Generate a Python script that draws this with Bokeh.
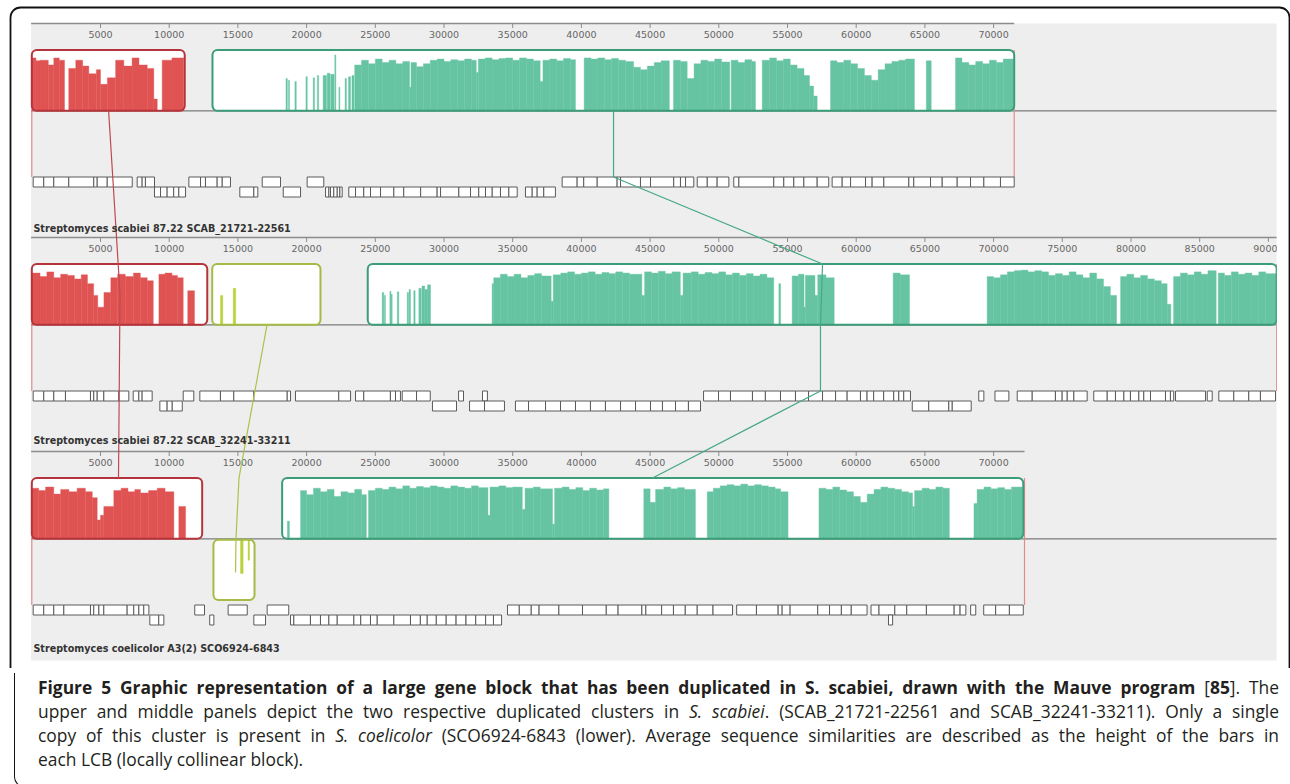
import numpy as np
from bokeh.plotting import figure
from bokeh.models import Range1d, Div
from bokeh.layouts import column
from bokeh.embed import file_html
from bokeh.resources import INLINE
from bokeh.core.properties import value

# ------------------------------------------------------------------ data
GENOME_NAMES = [
    "Streptomyces scabiei 87.22 SCAB_21721-22561",
    "Streptomyces scabiei 87.22 SCAB_32241-33211",
    "Streptomyces coelicolor A3(2) SCO6924-6843",
]
GENOME_LEN_KB = [71.5, 90.6, 72.25]

TICKS_P1 = [5000, 10000, 15000, 20000, 25000, 30000, 35000, 40000, 45000, 50000, 55000, 60000, 65000, 70000]
TICKS_P2 = [5000, 10000, 15000, 20000, 25000, 30000, 35000, 40000, 45000, 50000, 55000, 60000, 65000, 70000,
            75000, 80000, 85000, 90000]
TICKS_P3 = [5000, 10000, 15000, 20000, 25000, 30000, 35000, 40000, 45000, 50000, 55000, 60000, 65000, 70000]
TICKS = [TICKS_P1, TICKS_P2, TICKS_P3]

# similarity profiles: (start_kb, end_kb, relative height)
P1_RED_HIST = [(0.0, 0.3, .9), (0.3, 0.6, .85), (0.6, 1.2, .86), (1.2, 1.6, .78), (1.6, 2.0, .9), (2.0, 2.38, .86),
               (2.69, 3.2, .72), (3.2, 3.7, .86), (3.7, 4.15, .76), (4.15, 4.7, .63), (4.7, 5.0, .7), (5.0, 5.5, .45),
               (5.5, 6.1, .56), (6.1, 6.7, .86), (6.7, 7.3, .76), (7.3, 7.8, .9), (7.8, 8.4, .78), (8.4, 8.88, .72),
               (8.88, 9.13, .2), (9.49, 10.2, .86), (10.2, 11.05, .9)]
P1_GREEN_HIST = [(18.5, 18.6, .55), (18.68, 18.76, .52), (19.15, 19.25, .5), (19.95, 20.05, .58), (20.48, 20.58, .56),
                 (20.78, 20.88, .6), (21.2, 21.45, .6), (21.5, 21.7, .64), (21.75, 22.0, .62), (22.05, 22.13, .95),
                 (22.35, 22.42, .4), (22.8, 22.9, .55), (23.05, 23.2, .58), (23.3, 23.45, .6),
                 (23.5, 24.0, .78), (24.0, 24.5, .86), (24.5, 25.0, .8), (25.0, 25.5, .88), (25.5, 26.0, .82),
                 (26.0, 26.5, .86), (26.5, 27.0, .8), (27.0, 27.5, .84), (27.5, 27.6, .4), (27.6, 28.0, .82),
                 (28.0, 28.5, .75), (28.5, 29.0, .8), (29.0, 29.5, .86), (29.5, 30.0, .88), (30.0, 30.5, .84),
                 (30.5, 31.0, .87), (31.0, 31.5, .85), (31.5, 32.0, .88), (32.0, 32.35, .86), (32.35, 32.5, .65),
                 (32.5, 33.0, .88), (33.0, 33.5, .9), (33.5, 34.0, .87), (34.0, 34.5, .89), (34.5, 35.0, .9),
                 (35.0, 35.5, .86), (35.5, 36.0, .9), (36.0, 36.5, .88), (36.5, 37.0, .85), (37.0, 37.2, .5),
                 (37.2, 37.7, .86), (37.7, 38.2, .88), (38.2, 38.7, .85), (38.7, 39.2, .89), (39.2, 39.57, .87),
                 (40.2, 40.7, .9), (40.7, 41.2, .88), (41.2, 41.7, .9), (41.7, 42.2, .87), (42.2, 42.7, .89),
                 (42.7, 43.2, .86), (43.2, 43.8, .84), (43.8, 44.3, .74), (44.3, 44.8, .7), (44.8, 45.3, .76),
                 (45.3, 45.8, .82), (45.8, 46.4, .85),
                 (46.7, 47.2, .86), (47.2, 47.7, .84), (47.7, 48.2, .55), (48.2, 48.7, .8), (48.7, 49.2, .86),
                 (49.2, 49.7, .84), (49.7, 50.2, .88), (50.2, 50.8, .83), (50.9, 51.4, .86), (51.4, 51.9, .82),
                 (51.9, 52.4, .87), (52.4, 52.67, .84),
                 (53.16, 53.7, .86), (53.7, 54.2, .9), (54.2, 54.7, .85), (54.7, 55.2, .88), (55.2, 55.7, .78),
                 (55.7, 56.2, .72), (56.2, 56.6, .6), (56.6, 56.9, .42), (56.9, 57.16, .25),
                 (58.13, 58.6, .85), (58.6, 59.1, .82), (59.1, 59.6, .86), (59.6, 60.1, .8), (60.1, 60.6, .72),
                 (60.6, 61.1, .6), (61.1, 61.6, .52), (61.6, 62.1, .7), (62.1, 62.6, .8), (62.6, 63.1, .84),
                 (63.1, 63.6, .86), (63.6, 64.24, .88),
                 (65.1, 65.46, .85),
                 (67.23, 67.7, .9), (67.7, 68.2, .82), (68.2, 68.7, .78), (68.7, 69.2, .84), (69.2, 69.7, .8),
                 (69.7, 70.2, .86), (70.2, 70.7, .82), (70.7, 71.45, .88)]
P2_RED_HIST = [(0.0, 0.6, .88), (0.6, 1.1, .82), (1.1, 1.6, .9), (1.6, 2.1, .8), (2.1, 2.6, .86), (2.6, 3.1, .84),
               (3.1, 3.6, .78), (3.6, 4.05, .85), (4.05, 4.5, .7), (4.5, 4.8, .5), (4.8, 5.25, .3), (5.25, 5.75, .55),
               (5.75, 6.25, .8), (6.25, 6.8, .86), (6.8, 7.4, .82), (7.4, 7.9, .88), (7.9, 8.4, .8), (8.4, 8.84, .75),
               (9.25, 9.7, .86), (9.7, 10.2, .88), (10.2, 10.6, .84), (10.6, 11.02, .8), (11.35, 11.84, .58)]
P2_YELLOW_HIST = [(13.73, 13.9, .5), (14.66, 14.84, .62)]
P2_GREEN_HIST = [(25.5, 25.62, .55), (25.66, 25.74, .5), (26.06, 26.14, .57), (26.15, 26.23, .52), (26.6, 26.71, .56),
                 (27.32, 27.42, .55), (27.46, 27.56, .6), (27.8, 27.9, .58), (28.17, 28.35, .62), (28.4, 28.6, .66),
                 (28.6, 28.8, .6), (28.8, 29.02, .68),
                 (33.5, 33.62, .7), (33.62, 34.1, .8), (34.1, 34.6, .86), (34.6, 35.1, .82), (35.1, 35.6, .86),
                 (35.6, 36.1, .8), (36.1, 36.6, .84), (36.6, 37.1, .87), (37.1, 37.8, .83), (37.8, 37.95, .4),
                 (37.95, 38.5, .85), (38.5, 39.0, .88), (39.0, 39.5, .9), (39.5, 40.0, .86), (40.0, 40.5, .88),
                 (40.5, 41.0, .9), (41.0, 41.5, .86), (41.5, 42.0, .89), (42.0, 42.5, .87), (42.5, 43.0, .9),
                 (43.0, 43.5, .88), (43.5, 44.4, .86), (44.4, 44.6, .5), (44.6, 45.1, .9), (45.1, 45.6, .88),
                 (45.6, 46.1, .91), (46.1, 46.6, .87), (46.6, 47.2, .9), (47.2, 47.4, .5), (47.4, 48.0, .88),
                 (48.0, 48.5, .9), (48.5, 49.0, .86), (49.0, 49.5, .89), (49.5, 50.0, .87), (50.0, 50.5, .9),
                 (50.5, 51.0, .85), (51.0, 51.5, .88), (51.5, 52.0, .84), (52.0, 52.5, .87), (52.5, 53.0, .83),
                 (53.0, 53.5, .86), (53.5, 54.0, .8),
                 (54.37, 54.5, .7),
                 (55.34, 55.8, .83), (55.8, 56.2, .86), (56.2, 56.3, .3), (56.3, 57.0, .84), (57.0, 57.2, .5),
                 (57.2, 57.8, .85), (57.8, 58.4, .8),
                 (62.69, 63.2, .88), (63.2, 63.88, .85),
                 (69.53, 70.0, .82), (70.0, 70.5, .8), (70.5, 71.0, .85), (71.0, 71.5, .9), (71.5, 72.0, .92),
                 (72.0, 72.5, .93), (72.5, 73.0, .9), (73.0, 73.5, .92), (73.5, 74.0, .9), (74.0, 74.5, .84),
                 (74.5, 75.0, .87), (75.0, 75.5, .84), (75.5, 76.0, .9), (76.0, 76.5, .85), (76.5, 77.0, .8),
                 (77.0, 77.5, .88), (77.5, 78.0, .78), (78.0, 78.5, .65), (78.5, 78.95, .5),
                 (79.24, 79.7, .82), (79.7, 80.2, .86), (80.2, 80.7, .8), (80.7, 81.2, .84), (81.2, 81.7, .78),
                 (81.7, 82.2, .75), (82.2, 82.63, .7), (82.63, 82.9, .35),
                 (83.1, 83.6, .82), (83.6, 84.1, .88), (84.1, 84.6, .85), (84.6, 85.1, .9), (85.1, 85.6, .86),
                 (85.6, 86.2, .92),
                 (86.35, 86.8, .88), (86.8, 87.3, .84), (87.3, 87.8, .9), (87.8, 88.3, .86), (88.3, 88.8, .88),
                 (88.8, 89.3, .84), (89.3, 89.8, .9), (89.8, 90.55, .87)]
P3_RED_HIST = [(0.0, 0.5, .86), (0.5, 1.0, .82), (1.0, 1.6, .88), (1.6, 2.1, .76), (2.1, 2.7, .84), (2.7, 3.3, .8),
               (3.3, 3.9, .86), (3.9, 4.4, .8), (4.4, 4.76, .7), (4.76, 5.0, .32), (5.0, 5.24, .4), (5.24, 5.97, .55),
               (5.97, 6.5, .82), (6.5, 7.0, .86), (7.0, 7.5, .8), (7.5, 7.91, .84), (7.91, 8.5, .78), (8.5, 9.13, .82),
               (9.13, 9.7, .86), (9.7, 10.34, .8), (10.7, 11.19, .55)]
P3_YELLOW_HIST = [(15.19, 15.38, .58), (15.74, 15.84, .35)]
P3_GREEN_HIST = [(18.6, 18.75, .3),
                 (19.56, 20.0, .82), (20.0, 20.5, .75), (20.5, 21.0, .86), (21.0, 21.5, .8), (21.5, 22.0, .84),
                 (22.0, 22.5, .72), (22.5, 23.0, .8), (23.0, 23.5, .78), (23.5, 24.0, .84), (24.0, 24.35, .75),
                 (24.5, 25.0, .82), (25.0, 25.5, .86), (25.5, 26.0, .84), (26.0, 26.5, .88), (26.5, 27.0, .85),
                 (27.0, 27.5, .9), (27.5, 28.0, .86), (28.0, 28.5, .89), (28.5, 29.0, .87), (29.0, 29.5, .9),
                 (29.5, 30.0, .88), (30.0, 30.5, .86), (30.5, 31.0, .9), (31.0, 31.5, .88), (31.5, 32.0, .86),
                 (32.0, 32.5, .9), (32.5, 33.2, .87), (33.2, 33.35, .4), (33.35, 34.0, .88), (34.0, 34.5, .9),
                 (34.5, 35.0, .87), (35.0, 35.7, .88), (35.7, 35.9, .5), (35.9, 36.5, .86), (36.5, 37.0, .88),
                 (37.0, 37.9, .85), (37.9, 38.05, .25), (38.05, 38.6, .86), (38.6, 39.1, .88), (39.1, 39.6, .84),
                 (39.6, 40.1, .87), (40.1, 40.6, .82), (40.6, 41.1, .86), (41.1, 41.6, .83), (41.6, 42.0, .85),
                 (44.54, 45.0, .85), (45.0, 45.4, .62), (45.4, 46.0, .84), (46.0, 46.5, .88), (46.5, 47.0, .85),
                 (47.0, 47.5, .87), (47.5, 48.3, .84),
                 (49.16, 49.6, .8), (49.6, 50.1, .86), (50.1, 50.6, .9), (50.6, 51.1, .92), (51.1, 51.6, .9),
                 (51.6, 52.1, .93), (52.1, 52.6, .9), (52.6, 53.1, .92), (53.1, 53.6, .9), (53.6, 54.1, .88),
                 (54.1, 54.5, .85), (54.5, 55.04, .8),
                 (57.29, 57.8, .86), (57.8, 58.3, .84), (58.3, 58.8, .88), (58.8, 59.3, .83), (59.3, 59.8, .8),
                 (59.8, 60.3, .72), (60.3, 60.8, .62), (60.8, 61.3, .76), (61.3, 61.8, .84), (61.8, 62.3, .88),
                 (62.3, 62.8, .86), (62.8, 63.3, .84), (63.3, 63.8, .8), (63.8, 64.1, .78), (64.1, 64.25, .55),
                 (64.25, 64.8, .82), (64.8, 65.3, .86), (65.3, 65.8, .84), (65.8, 66.3, .88), (66.3, 66.78, .86),
                 (68.57, 68.8, .6), (68.8, 69.3, .84), (69.3, 69.8, .88), (69.8, 70.3, .85), (70.3, 70.8, .87),
                 (70.8, 71.3, .84), (71.3, 72.1, .88)]

# locally collinear blocks
BLOCK_GENOME = [0, 0, 1, 1, 1, 2, 2, 2]
BLOCK_LCB = ["red", "green", "red", "yellow", "green", "red", "yellow", "green"]
BLOCK_START_KB = [0.0, 13.15, 0.0, 13.13, 24.45, 0.0, 13.22, 18.22]
BLOCK_END_KB = [11.13, 71.5, 12.77, 21.01, 90.6, 12.4, 16.21, 72.16]
BLOCK_STRAND = [1, 1, 1, 1, 1, 1, -1, 1]
BLOCK_HIST = [P1_RED_HIST, P1_GREEN_HIST, P2_RED_HIST, P2_YELLOW_HIST, P2_GREEN_HIST,
              P3_RED_HIST, P3_YELLOW_HIST, P3_GREEN_HIST]

# genes: chains of adjacent CDS boundaries (kb)
P1_FWD = [[0.1, 0.87, 1.6, 2.69, 4.51, 4.76, 5.49, 7.31], [7.67, 8.03, 8.27, 8.93],
          [11.43, 12.28, 12.64, 13.49, 13.86, 14.46], [16.77, 18.1], [20.04, 21.25],
          [38.6, 39.69, 40.17, 41.15, 42.6, 42.85, 44.3, 45.03, 46.72, 47.21, 47.58, 48.18],
          [48.43, 49.16, 49.88, 50.73], [51.09, 51.46, 54.0, 54.73, 55.46, 56.19, 57.16, 58.0],
          [58.25, 58.98, 59.59, 60.68, 61.16, 62.01, 63.83, 64.19, 65.41, 66.26, 67.35, 68.32, 69.29, 70.5, 71.5]]
P1_REV = [[8.93, 9.37, 9.85, 10.33, 10.7, 11.19], [15.14, 16.16, 16.45], [18.3, 19.56],
          [21.38, 21.62, 21.74, 21.98, 22.23, 22.42, 22.59],
          [23.07, 23.56, 24.16, 24.65, 25.38, 26.35, 27.07, 28.3, 29.5, 29.75, 31.08, 31.93, 32.53, 33.02, 33.51,
           34.11, 34.72, 35.33],
          [35.93, 36.42, 36.78, 37.26, 38.11]]
P2_FWD = [[0.1, 0.87, 1.6, 2.45, 4.27, 4.51, 4.76, 5.24, 6.33, 7.06], [7.38, 7.79, 8.03, 8.76], [11.02, 11.79],
          [12.23, 13.73, 14.7, 16.16, 18.59, 18.83], [19.19, 22.34, 23.2], [23.56, 24.16, 26.1, 26.47, 26.83],
          [26.96, 28.0, 29.0], [31.06, 31.42], [32.8, 33.16],
          [48.89, 49.98, 50.85, 52.45, 53.39, 54.49, 55.58, 56.53, 57.55, 58.5, 59.34, 60.31, 60.79, 61.27, 62.0,
           62.73, 63.1, 63.46, 63.95],
          [68.92, 69.29], [70.1, 71.11], [71.72, 72.81, 74.5, 74.99, 75.36, 75.84, 76.81],
          [77.29, 78.27, 78.87, 79.48, 79.96, 80.57, 80.93, 81.42, 82.51, 82.87, 83.11],
          [83.24, 85.42], [85.55, 85.91], [86.39, 87.48, 88.57, 89.42, 90.52]]
P2_REV = [[9.32, 9.85, 10.22, 10.95], [29.16, 30.91], [31.86, 32.95, 34.4],
          [35.2, 36.15, 37.39, 38.48, 39.57, 40.66, 41.75, 42.85, 43.94, 45.03, 45.9, 46.85, 47.79, 48.67],
          [64.08, 65.28, 66.74, 66.99, 68.37]]
P3_FWD = [[0.1, 0.87, 1.6, 2.33, 4.27, 4.51, 4.88, 5.24, 6.94, 7.42, 7.79, 8.15, 8.52], [11.86, 12.57],
          [14.29, 15.68], [17.13, 18.7],
          [34.62, 35.48, 36.35, 36.92, 38.36, 40.08, 41.81, 42.67, 44.4, 44.69, 45.84, 46.7, 47.56, 48.43, 49.58, 51.0],
          [51.3, 52.74, 54.32, 54.61, 55.19, 57.2, 58.06, 58.92, 59.64, 60.79],
          [61.08, 61.66, 62.81, 63.68, 65.11, 67.13, 67.56, 67.98], [68.33, 68.7], [69.28, 70.15, 71.15, 72.16]]
P3_REV = [[8.59, 9.24, 9.61], [12.95, 13.25], [16.16, 17.01],
          [18.83, 19.07, 20.28, 21.01, 21.62, 22.23, 23.44, 23.94, 24.65, 25.14, 26.35, 27.56, 28.28, 28.78, 29.44,
           30.16, 30.88, 31.6, 32.31, 33.03, 33.6, 34.19],
          [62.35, 62.65]]
GENES_FWD = [P1_FWD, P2_FWD, P3_FWD]
GENES_REV = [P1_REV, P2_REV, P3_REV]

# LCB connecting lines: kb position and (genome, anchor) of each vertex
LINK_LCB = ["red", "green", "yellow"]
LINK_KB = [[5.59, 6.42, 6.31],
           [42.34, 42.34, 57.55, 57.4, 57.4, 45.18],
           [17.12, 15.08, 14.86, 14.83]]
LINK_ANCHOR = [[(0, "center"), (1, "mid"), (2, "top")],
               [(0, "center"), (0, "gene"), (1, "top"), (1, "center"), (1, "gene"), (2, "top")],
               [(1, "center"), (2, "top"), (2, "center"), (2, "revmid")]]

# ------------------------------------------------------------------ style / layout
LCB_FILL = {"red": "#e05353", "green": "#66c4a3", "yellow": "#b9d13a"}
LCB_EDGE = {"red": "#b5343b", "green": "#3b9c78", "yellow": "#a4bb46"}
LINK_COLOR = {"red": "#c0484e", "green": "#45a985", "yellow": "#a9c24a"}
GREY = "#eeeeee"

FIG_W, FIG_H = 1290, 668
PX_PER_KB = 13.74
X0_PX = 31.3
PANEL_TOP = [23, 237, 451]
OFF = {"top": 26.5, "center": 87.3, "mid": 56.0, "gene": 153.5, "revmid": 121.0, "revbot": 148.5}
LABEL_Y = [227.5, 440.0, 647.5]
GREY_TOP, GREY_BOTTOM = 23, 660
PANEL_RIGHT_KB = 90.6

x_start = -X0_PX / PX_PER_KB
x_end = (FIG_W - X0_PX) / PX_PER_KB

p = figure(width=FIG_W, height=FIG_H, x_range=Range1d(x_start, x_end), y_range=Range1d(FIG_H, 0),
           output_backend="svg", toolbar_location=None, x_axis_type=None, y_axis_type=None,
           min_border=0, min_border_left=0, min_border_right=0, min_border_top=0, min_border_bottom=0)
p.outline_line_color = None
p.background_fill_color = "white"
p.border_fill_color = "white"
p.xgrid.visible = False
p.ygrid.visible = False

# grey panel background
p.quad(left=[-0.05], right=[PANEL_RIGHT_KB], top=[GREY_TOP], bottom=[GREY_BOTTOM],
       fill_color=GREY, line_color=None)

for g in range(3):
    T = PANEL_TOP[g]
    # centre line
    p.segment(x0=[-0.05], x1=[PANEL_RIGHT_KB], y0=[T + OFF["center"]], y1=[T + OFF["center"]],
              line_color="#7a7a7a", line_width=1.3)
    # ruler
    p.segment(x0=[-0.05], x1=[GENOME_LEN_KB[g]], y0=[T], y1=[T], line_color="#8c8c8c", line_width=1.6)
    tk = np.array(TICKS[g]) / 1000.0
    p.segment(x0=tk, x1=tk, y0=[T] * len(tk), y1=[T + 4.5] * len(tk), line_color="#8c8c8c", line_width=1)
    p.text(x=tk, y=[T + 10.5] * len(tk), text=[str(t) for t in TICKS[g]], text_align="center",
           text_baseline="middle", text_font=value("DejaVu Sans"), text_font_size="9.5px", text_color="#666666")
    # genome boundary lines
    p.segment(x0=[0.0], x1=[0.0], y0=[T + OFF["center"]], y1=[T + OFF["gene"]], line_color="#e58a8a", line_width=1.2)
    p.segment(x0=[GENOME_LEN_KB[g]], x1=[GENOME_LEN_KB[g]], y0=[T + OFF["top"]], y1=[T + OFF["gene"]],
              line_color="#e58a8a", line_width=1.2)

# LCB blocks with similarity profiles
for i in range(len(BLOCK_LCB)):
    T = PANEL_TOP[BLOCK_GENOME[i]]
    lcb = BLOCK_LCB[i]
    if BLOCK_STRAND[i] > 0:
        btop, bbot = T + OFF["top"], T + OFF["center"]
    else:
        btop, bbot = T + OFF["center"] + 1.0, T + OFF["revbot"]
    p.quad(left=[BLOCK_START_KB[i]], right=[BLOCK_END_KB[i]], top=[btop], bottom=[bbot],
           fill_color="white", line_color=None, border_radius=5)
    hist = BLOCK_HIST[i]
    if hist:
        hs = np.array([h[0] for h in hist]); he = np.array([h[1] for h in hist]); hh = np.array([h[2] for h in hist])
        inner = (bbot - btop) - 2.0
        if BLOCK_STRAND[i] > 0:
            tops = bbot - hh * inner
            bots = np.full(len(hh), bbot)
        else:
            tops = np.full(len(hh), btop)
            bots = btop + hh * inner
        p.quad(left=hs, right=he, top=tops, bottom=bots, fill_color=LCB_FILL[lcb],
               line_color=LCB_FILL[lcb], line_width=0.4)
    p.quad(left=[BLOCK_START_KB[i]], right=[BLOCK_END_KB[i]], top=[btop], bottom=[bbot],
           fill_color=None, line_color=LCB_EDGE[lcb], line_width=2, border_radius=5)

# genes
for g in range(3):
    T = PANEL_TOP[g]
    for chains, y0 in ((GENES_FWD[g], T + OFF["gene"]), (GENES_REV[g], T + OFF["gene"] + 10)):
        L, R = [], []
        for ch in chains:
            for a, b in zip(ch[:-1], ch[1:]):
                L.append(a); R.append(b)
        p.quad(left=L, right=R, top=[y0] * len(L), bottom=[y0 + 10] * len(L),
               fill_color="white", line_color="#5a5a5a", line_width=1)

# connecting lines
for k in range(len(LINK_LCB)):
    ys = [PANEL_TOP[gi] + OFF[a] for gi, a in LINK_ANCHOR[k]]
    p.line(x=LINK_KB[k], y=ys, line_color=LINK_COLOR[LINK_LCB[k]], line_width=1.2)

# genome labels
p.text(x=[0.12] * 3, y=LABEL_Y, text=GENOME_NAMES, text_align="left", text_baseline="middle",
       text_font=value("DejaVu Sans"), text_font_style="bold", text_font_size="9.6px", text_color="#333333")

# white margin right of panels, outer frame
p.quad(left=[PANEL_RIGHT_KB + 0.02], right=[x_end + 2], top=[9], bottom=[FIG_H + 5], fill_color="white", line_color=None)
p.quad(left=[(10 - X0_PX) / PX_PER_KB], right=[(1289 - X0_PX) / PX_PER_KB], top=[7], bottom=[FIG_H + 200],
       fill_color=None, line_color="#111111", line_width=1.8, border_radius=10)

# ------------------------------------------------------------------ caption
line1 = ("<b>Figure 5 Graphic representation of a large gene block that has been duplicated in S. scabiei, "
         "drawn with the Mauve program</b> [<b>85</b>]. The")
line2 = ("upper and middle panels depict the two respective duplicated clusters in <i>S. scabiei</i>. "
         "(SCAB_21721-22561 and SCAB_32241-33211). Only a single")
line3 = ("copy of this cluster is present in <i>S. coelicolor</i> (SCO6924-6843 (lower). Average sequence "
         "similarities are described as the height of the bars in")
line4 = "each LCB (locally collinear block)."
jl = "text-align:justify;text-align-last:justify;white-space:nowrap;"
html = (
    "<div style=\"width:1280px;height:114px;margin-left:9px;box-sizing:border-box;"
    "border-left:1.8px solid #111;border-right:1.8px solid #111;border-bottom:1.8px solid #111;"
    "border-bottom-left-radius:10px;border-bottom-right-radius:10px;"
    "padding:2px 14px 0 23px;font-family:'Open Sans',sans-serif;font-size:17.4px;line-height:24px;color:#231f20;\">"
    f"<div style=\"{jl}\">{line1}</div>"
    f"<div style=\"{jl}\">{line2}</div>"
    f"<div style=\"{jl}\">{line3}</div>"
    f"<div style=\"white-space:nowrap;\">{line4}</div>"
    "</div>"
)
cap = Div(text=html, width=FIG_W, height=114)

layout = column(p, cap, spacing=0)
open("out.html", "w").write(file_html(layout, INLINE))
